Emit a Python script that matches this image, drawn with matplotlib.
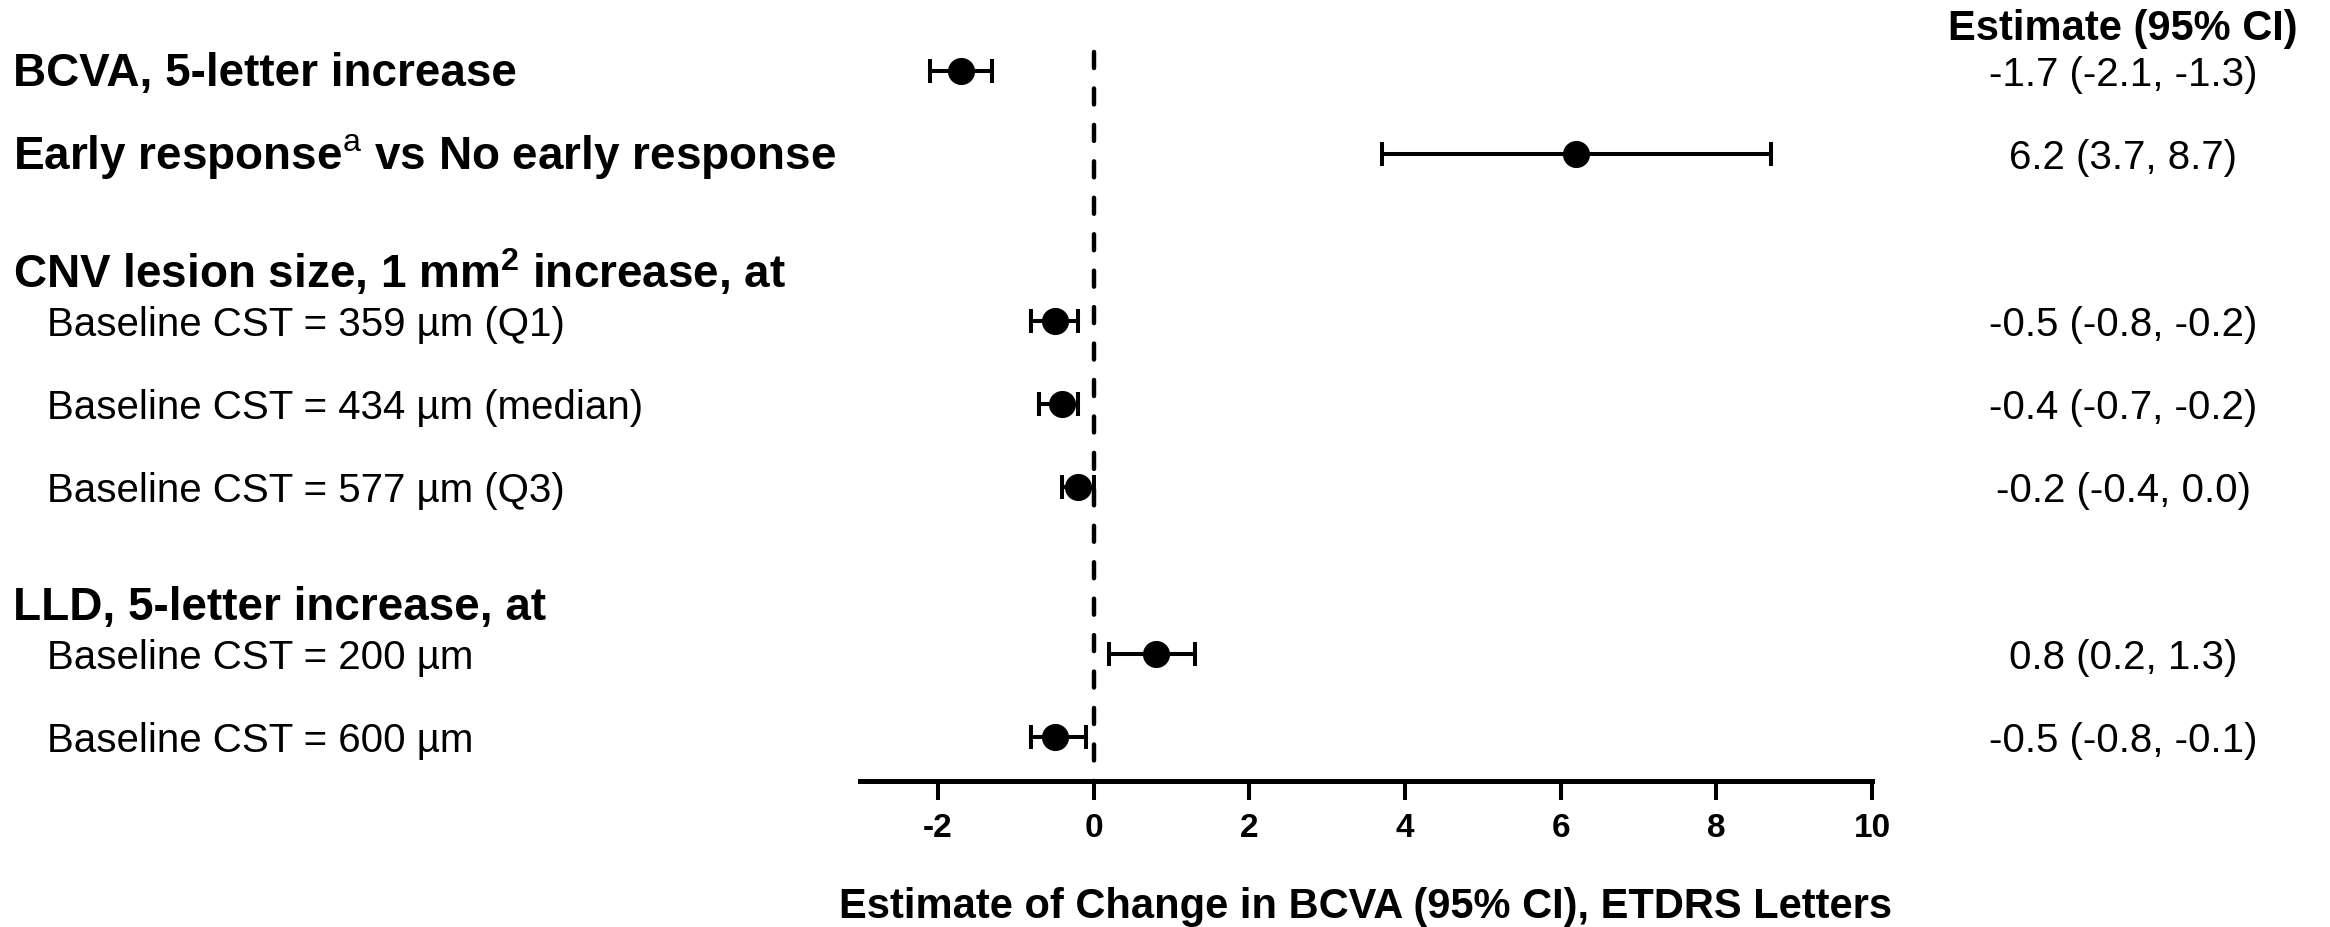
import matplotlib
matplotlib.use("Agg")
import matplotlib.pyplot as plt
from matplotlib.transforms import blended_transform_factory

plt.rcParams['font.family'] = ['Liberation Sans', 'DejaVu Sans']
plt.rcParams['mathtext.fontset'] = 'custom'
plt.rcParams['mathtext.rm'] = 'Liberation Sans'
plt.rcParams['mathtext.bf'] = 'Liberation Sans:bold'

# ---- data ----
row_labels = [
    "BCVA, 5-letter increase",
    "Early response$^{\\mathrm{a}}$ vs No early response",
    "Baseline CST = 359 µm (Q1)",
    "Baseline CST = 434 µm (median)",
    "Baseline CST = 577 µm (Q3)",
    "Baseline CST = 200 µm",
    "Baseline CST = 600 µm",
]
row_bold = [True, True, False, False, False, False, False]
group_headers = [
    "CNV lesion size, 1 mm$^{\\mathbf{2}}$ increase, at",
    "LLD, 5-letter increase, at",
]
estimates = [-1.7, 6.2, -0.5, -0.4, -0.2, 0.8, -0.5]
ci_low = [-2.1, 3.7, -0.8, -0.7, -0.4, 0.2, -0.8]
ci_high = [-1.3, 8.7, -0.2, -0.2, 0.0, 1.3, -0.1]
xticks = [-2, 0, 2, 4, 6, 8, 10]
xlabel = "Estimate of Change in BCVA (95% CI), ETDRS Letters"
col_header = "Estimate (95% CI)"

# ---- layout ----
row_pos = [1, 2, 4, 5, 6, 8, 9]
header_pos = [3.42, 7.42]
y_bottom, y_top = 9.53, 0.77

W, H = 2330, 928
fig = plt.figure(figsize=(W / 100, H / 100), dpi=100)
ax = fig.add_axes([860 / W, 1 - 782 / H, (1872 - 860) / W, (782 - 53) / H])
ax.set_xlim(-3, 10)
ax.set_ylim(y_bottom, y_top)

# reference line
ax.plot([0, 0], [y_top, y_bottom], color='black', lw=3.2,
        linestyle=(0, (3.6, 4.6)), dash_capstyle='round', zorder=1, clip_on=False)

# error bars
xerr = [[e - l for e, l in zip(estimates, ci_low)],
        [h - e for e, h in zip(estimates, ci_high)]]
ax.errorbar(estimates, row_pos, xerr=xerr, fmt='o', color='black',
            markersize=18.5, elinewidth=2.9, capsize=8.3, capthick=2.9,
            zorder=3, clip_on=False)

# axes styling
for s in ['left', 'top', 'right']:
    ax.spines[s].set_visible(False)
ax.spines['bottom'].set_linewidth(3.6)
ax.set_yticks([])
ax.set_xticks(xticks)
ax.set_xticklabels([str(t) for t in xticks], fontsize=24, fontweight='bold')
ax.tick_params(axis='x', length=14, width=2.9, pad=8, direction='out')

# x label
fig.text((860 + 1872) / 2 / W, 1 - 918 / H, xlabel, ha='center', va='baseline',
         fontsize=30, fontweight='bold')

# left labels
tr = blended_transform_factory(fig.transFigure, ax.transData)
base_off = 14 / 83.25
for lab, y, b in zip(row_labels, row_pos, row_bold):
    if b:
        ax.text(13 / W, y + base_off, lab, transform=tr, ha='left', va='baseline',
                fontsize=33, fontweight='bold')
    else:
        ax.text(47 / W, y + base_off, lab, transform=tr, ha='left', va='baseline',
                fontsize=29)
for lab, y in zip(group_headers, header_pos):
    ax.text(13 / W, y + base_off, lab, transform=tr, ha='left', va='baseline',
            fontsize=33, fontweight='bold')

# right column
fig.text(2123 / W, 1 - 40 / H, col_header, ha='center', va='baseline',
         fontsize=30, fontweight='bold')
for e, l, h, y in zip(estimates, ci_low, ci_high, row_pos):
    ax.text(2123 / W, y + base_off, f"{e:.1f} ({l:.1f}, {h:.1f})", transform=tr,
            ha='center', va='baseline', fontsize=29)

fig.savefig('out.png', dpi=100, facecolor='white')
